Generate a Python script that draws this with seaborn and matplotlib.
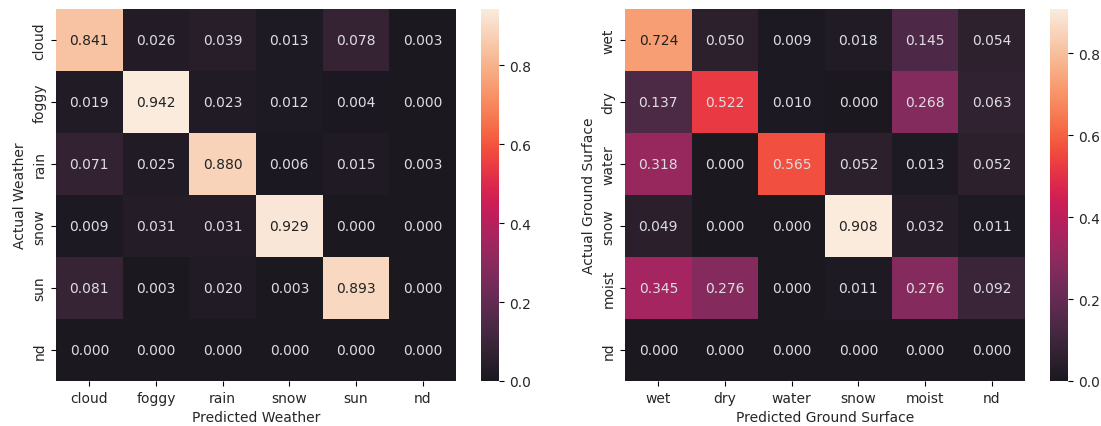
import numpy as np
import pandas as pd
import matplotlib
matplotlib.use("Agg")
import matplotlib.pyplot as plt
from matplotlib.colors import ListedColormap
import seaborn as sns

weather_labels = ["cloud", "foggy", "rain", "snow", "sun", "nd"]
weather_values = [
    [0.841, 0.026, 0.039, 0.013, 0.078, 0.003],
    [0.019, 0.942, 0.023, 0.012, 0.004, 0.000],
    [0.071, 0.025, 0.880, 0.006, 0.015, 0.003],
    [0.009, 0.031, 0.031, 0.929, 0.000, 0.000],
    [0.081, 0.003, 0.020, 0.003, 0.893, 0.000],
    [0.000, 0.000, 0.000, 0.000, 0.000, 0.000],
]

ground_labels = ["wet", "dry", "water", "snow", "moist", "nd"]
ground_values = [
    [0.724, 0.050, 0.009, 0.018, 0.145, 0.054],
    [0.137, 0.522, 0.010, 0.000, 0.268, 0.063],
    [0.318, 0.000, 0.565, 0.052, 0.013, 0.052],
    [0.049, 0.000, 0.000, 0.908, 0.032, 0.011],
    [0.345, 0.276, 0.000, 0.011, 0.276, 0.092],
    [0.000, 0.000, 0.000, 0.000, 0.000, 0.000],
]

df_w = pd.DataFrame(weather_values, index=weather_labels, columns=weather_labels)
df_g = pd.DataFrame(ground_values, index=ground_labels, columns=ground_labels)

# rocket with a slightly lifted (greyer) dark end, as in the reference
rocket = np.array(sns.color_palette("rocket", 256))
t = np.linspace(0, 1, 256)[:, None]
dark = np.array([27, 24, 32]) / 255.0
lifted = rocket + (dark - rocket[0]) * (1 - t) ** 1.5
cmap = ListedColormap(np.clip(lifted, 0, 1))

plt.rcParams["font.family"] = ["DejaVu Sans"]
fig = plt.figure(figsize=(11.01, 4.27), dpi=100)

H = 372 / 427
B = 1 - 382 / 427
ax1 = fig.add_axes([56 / 1101, B, 400 / 1101, H])
cax1 = fig.add_axes([481 / 1101, B, 18 / 1101, H])
ax2 = fig.add_axes([625 / 1101, B, 400 / 1101, H])
cax2 = fig.add_axes([1050 / 1101, B, 18 / 1101, H])

for ax, cax, df, xl, yl in [
    (ax1, cax1, df_w, "Predicted Weather", "Actual Weather"),
    (ax2, cax2, df_g, "Predicted Ground Surface", "Actual Ground Surface"),
]:
    sns.heatmap(df, annot=True, fmt=".3f", ax=ax, cbar_ax=cax, cmap=cmap,
                annot_kws={"fontsize": 10})
    ax.set_xlabel(xl, fontsize=10, color="#262626")
    ax.set_ylabel(yl, fontsize=10, color="#262626")
    ax.tick_params(labelsize=10, labelcolor="#262626")
    cax.tick_params(labelsize=10, labelcolor="#262626")
    cax.yaxis.set_major_locator(matplotlib.ticker.MultipleLocator(0.2))
    for txt in ax.texts:
        c = matplotlib.colors.to_rgb(txt.get_color())
        if sum(c) > 1.5:
            txt.set_color("#dedde3")
        else:
            txt.set_color("#222222")

fig.savefig("out.png", dpi=100)
